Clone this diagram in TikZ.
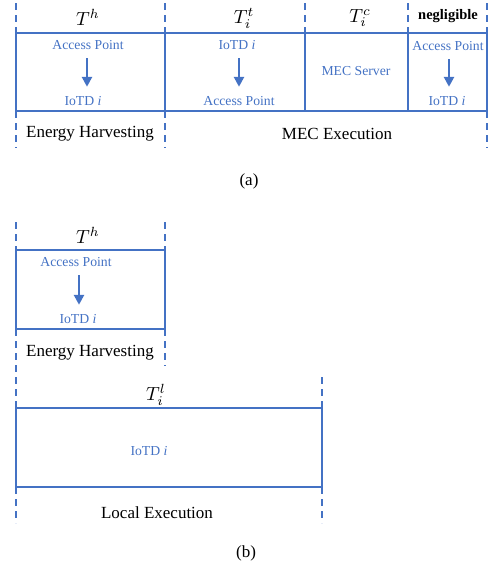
\documentclass[tikz,border=0pt]{standalone}
\usepackage{graphicx}
\usepackage{fontspec}
\setmainfont{Liberation Serif}
\usetikzlibrary{arrows.meta}
\definecolor{myblue}{RGB}{68,114,196}
\newcommand{\bigmath}[1]{\scalebox{1.9}{$#1$}}
\tikzset{
  cell/.style={draw=myblue, line width=2.6pt, inner sep=0pt, minimum height=78pt},
  btxt/.style={text=myblue, inner sep=0pt, font=\fontsize{13.7}{15}\selectfont, text height=9pt, text depth=3pt},
  ktxt/.style={text=black, inner sep=0pt, font=\fontsize{17}{20}\selectfont},
  mtxt/.style={text=black, inner sep=0pt},
  vdash/.style={draw=myblue, line width=2.6pt, dash pattern=on 7pt off 5pt},
  flow/.style={draw=myblue, line width=2.6pt, -{Triangle[width=10pt,length=10pt]}, shorten <=6pt, shorten >=9pt}
}
\begin{document}
\begin{tikzpicture}[x=1pt,y=-1pt]
\useasboundingbox (0,0) rectangle (490,568);
% ---------- (a) ----------
\foreach \xx/\nm in {16/a1,165/a2,305/a3,408/a4,487/a5}{
  \coordinate (\nm t) at (\xx,3);
  \coordinate (\nm b) at (\xx,33);
  \draw[vdash] (\nm t) -- (\nm b);
}
\foreach \xx/\nm in {16/a1,165/a2,487/a5}{
  \coordinate (\nm u) at (\xx,111);
  \coordinate (\nm v) at (\xx,148);
  \draw[vdash] (\nm u) -- (\nm v);
}
\node[cell, minimum width=149pt] (c1) at (90.5,72) {};
\node[cell, minimum width=140pt] (c2) at (235,72) {};
\node[cell, minimum width=103pt] (c3) at (356.5,72) {};
\node[cell, minimum width=79pt] (c4) at (447.5,72) {};

\node[mtxt] (th) at (88,17) {\bigmath{T^h}};
\node[mtxt] (tt) at (244,18) {\bigmath{T_i^t}};
\node[mtxt] (tc) at (360,18) {\bigmath{T_i^c}};
\node[ktxt, font=\fontsize{14.5}{17}\selectfont\bfseries] (neg) at (448,16) {negligible};

\node[btxt] (ap1) at (88,46) {Access Point};
\node[btxt] (io1) at (83,102) {IoTD \textit{i}};
\draw[flow] (ap1.south -| 87,0) -- (io1.north -| 87,0);

\node[btxt] (io2) at (237,46) {IoTD \textit{i}};
\node[btxt] (ap2) at (239,102) {Access Point};
\draw[flow] (io2.south -| 239,0) -- (ap2.north -| 239,0);

\node[btxt] (mec) at (356,72) {MEC Server};

\node[btxt] (ap4) at (448,47) {Access Point};
\node[btxt] (io4) at (447,102) {IoTD \textit{i}};
\draw[flow] (ap4.south -| 449,0) -- (io4.north -| 449,0);

\node[ktxt] (eh1) at (90,134) {Energy Harvesting};
\node[ktxt] (mecx) at (337,134) {MEC Execution};
\node[ktxt] (la) at (249,181) {(a)};

% ---------- (b) ----------
\foreach \xx/\nm in {16/b1,165/b2}{
  \coordinate (\nm t) at (\xx,222);
  \coordinate (\nm b) at (\xx,250);
  \draw[vdash] (\nm t) -- (\nm b);
}
\node[cell, minimum width=149pt, minimum height=79pt] (d1) at (90.5,289.5) {};
\node[mtxt] (th2) at (88,235) {\bigmath{T^h}};
\node[btxt] (ap5) at (76,263) {Access Point};
\node[btxt] (io5) at (78,320) {IoTD \textit{i}};
\draw[flow] (ap5.south -| 79,0) -- (io5.north -| 79,0);
\node[ktxt] (eh2) at (90,353) {Energy Harvesting};

\coordinate (b2u) at (165,329);
\coordinate (b2v) at (165,366);
\draw[vdash] (b2u) -- (b2v);
\coordinate (b1u) at (16,329);
\coordinate (b1v) at (16,408);
\draw[vdash] (b1u) -- (b1v);
\coordinate (b3t) at (322,377);
\coordinate (b3b) at (322,408);
\draw[vdash] (b3t) -- (b3b);

\node[cell, minimum width=306pt, minimum height=79pt] (d2) at (169,447.5) {};
\node[mtxt] (tl) at (156,395) {\bigmath{T_i^l}};
\node[btxt] (io6) at (149,452) {IoTD \textit{i}};
\node[ktxt] (lx) at (157,513) {Local Execution};

\foreach \xx/\nm in {16/e1,322/e2}{
  \coordinate (\nm t) at (\xx,487);
  \coordinate (\nm b) at (\xx,523);
  \draw[vdash] (\nm t) -- (\nm b);
}
\node[ktxt] (lb) at (246,553) {(b)};
\end{tikzpicture}
\end{document}
